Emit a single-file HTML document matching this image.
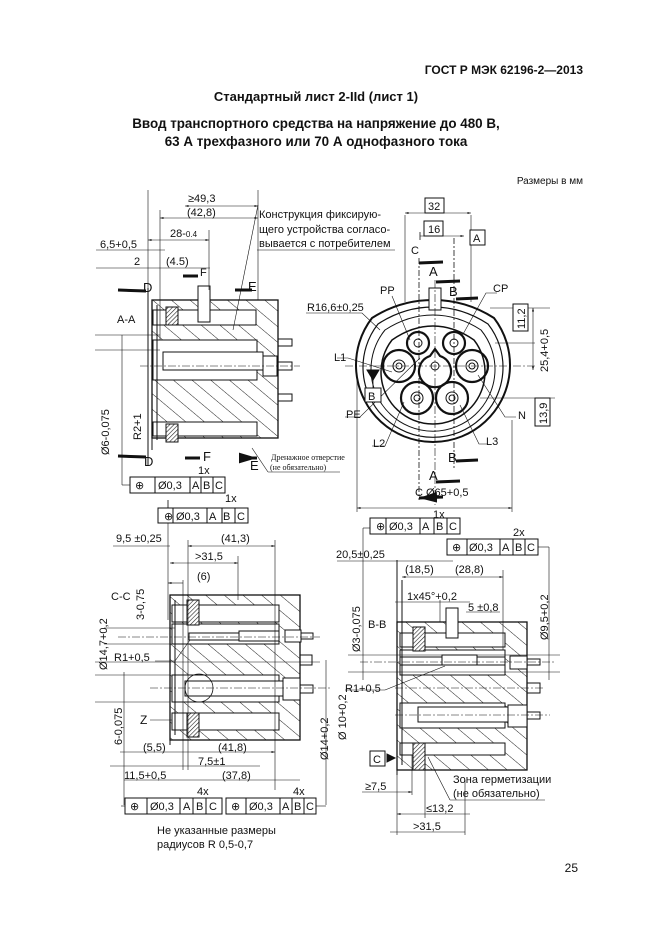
<!DOCTYPE html>
<html><head><meta charset="utf-8"><style>
html,body{margin:0;padding:0;background:#fff}
svg{display:block}
text{font-family:"Liberation Sans","DejaVu Sans",sans-serif;fill:#111}
.b{font-weight:bold}
.t{font-size:11px}
.s{font-size:10px}
.sf{font-family:"Liberation Serif",serif;font-size:8px}
</style></head><body>
<svg width="661" height="935" viewBox="0 0 661 935" xmlns="http://www.w3.org/2000/svg">
<defs>
<pattern id="h" patternUnits="userSpaceOnUse" width="12" height="12" patternTransform="rotate(-50)">
<rect width="12" height="12" fill="#fff"/><line x1="0" y1="0" x2="0" y2="12" stroke="#222" stroke-width="1"/>
</pattern>
<pattern id="hd" patternUnits="userSpaceOnUse" width="3" height="3" patternTransform="rotate(45)">
<rect width="3" height="3" fill="#fff"/><line x1="0" y1="0" x2="0" y2="3" stroke="#222" stroke-width="1.2"/>
</pattern>
<marker id="ar" viewBox="0 0 10 10" refX="10" refY="5" markerWidth="6" markerHeight="6" orient="auto-start-reverse"><path d="M0,2 L10,5 L0,8z" fill="#111"/></marker>
</defs>

<text x="583" y="74" text-anchor="end" class="b" font-size="12">ГОСТ Р МЭК 62196-2—2013</text>
<text x="316" y="101" text-anchor="middle" class="b" font-size="13">Стандартный лист 2-IId (лист 1)</text>
<text x="316" y="128" text-anchor="middle" class="b" font-size="13.4">Ввод транспортного средства на напряжение до 480 В,</text>
<text x="316" y="146" text-anchor="middle" class="b" font-size="13.4">63 А трехфазного или 70 А однофазного тока</text>
<text x="583" y="184" text-anchor="end" class="s">Размеры в мм</text>
<text x="578" y="872" text-anchor="end" font-size="12">25</text>

<g stroke="#111" fill="none" stroke-width="1">
<!-- A-A view -->
<rect x="152" y="300" width="126" height="138" fill="url(#h)" stroke-width="1.3"/>
<rect x="153" y="310" width="103" height="15" fill="#fff"/>
<rect x="153" y="340" width="104" height="40" fill="#fff"/>
<rect x="153" y="422" width="104" height="14" fill="#fff"/>
<rect x="163" y="352" width="100" height="18" fill="#fff"/>
<rect x="263" y="356" width="14" height="20" fill="#fff"/>
<rect x="277" y="362" width="15" height="8"/>
<rect x="278" y="339" width="14" height="7"/>
<rect x="278" y="394" width="14" height="7"/>
<rect x="166" y="307" width="12" height="18" fill="url(#hd)"/>
<rect x="166" y="424" width="12" height="18" fill="url(#hd)"/>
<rect x="198" y="286" width="12" height="36" fill="#fff"/>
<line x1="152" y1="300" x2="152" y2="450"/><line x1="157" y1="305" x2="157" y2="440"/>
<line x1="148" y1="288" x2="148" y2="465"/>
<line x1="148" y1="190" x2="148" y2="290" stroke-width=".6"/>
<line x1="258" y1="190" x2="258" y2="300" stroke-width=".6"/>
<line x1="185" y1="206" x2="258" y2="206" stroke-width=".6" marker-start="url(#ar)" marker-end="url(#ar)"/>
<line x1="160" y1="218" x2="258" y2="218" stroke-width=".6" marker-start="url(#ar)" marker-end="url(#ar)"/>
<line x1="148" y1="240" x2="209" y2="240" stroke-width=".6" marker-start="url(#ar)" marker-end="url(#ar)"/>
<line x1="96" y1="250" x2="165" y2="250" stroke-width=".6"/>
<line x1="96" y1="268" x2="210" y2="268" stroke-width=".6"/>
<line x1="209" y1="230" x2="209" y2="290" stroke-width=".6"/>
<line x1="160" y1="210" x2="160" y2="340" stroke-width=".6"/>
<line x1="95" y1="335" x2="160" y2="335" stroke-width=".6"/>
<line x1="95" y1="350" x2="160" y2="350" stroke-width=".6"/>
<line x1="122" y1="335" x2="122" y2="485" stroke-width=".6"/>
<line x1="122" y1="485" x2="130" y2="485" stroke-width=".6"/>
<line x1="140" y1="366" x2="300" y2="366" stroke-width=".5" stroke-dasharray="8,2,2,2"/>
<line x1="258" y1="205" x2="233" y2="330" stroke-width=".6"/>
<line x1="257" y1="250" x2="395" y2="250" stroke-width=".6"/>
<line x1="252" y1="448" x2="268" y2="472" stroke-width=".6"/><line x1="268" y1="472" x2="340" y2="472" stroke-width=".6"/>
<path d="M118,290 L146,291 M118,456 L146,457 M183,276 L198,276 M185,458 L200,458 M235,290 L252,290 M240,458 L257,458" stroke-width="3" marker-end="url(#ar)"/>
<rect x="130" y="477" width="95" height="16" fill="#fff"/>
<line x1="155" y1="477" x2="155" y2="493"/><line x1="190" y1="477" x2="190" y2="493"/><line x1="201" y1="477" x2="201" y2="493"/><line x1="213" y1="477" x2="213" y2="493"/>

<!-- Front view -->
<path d="M372,318 Q400,300 433,300 Q466,300 494,318 A77,77 0 1 1 372,318 Z" stroke-width="2"/>
<path d="M378,324 Q404,307 433,307 Q462,307 488,324 A70,70 0 1 1 378,324 Z" stroke-width="1.2"/>
<path d="M385,330 Q408,315 433,315 Q458,315 481,330 A62,62 0 1 1 385,330 Z" stroke-width="1"/>
<path d="M392,340 Q412,326 433,326 Q454,326 474,340 A52,52 0 1 1 392,340 Z" stroke-width="1.5"/>
<g stroke-width="2.2">
<circle cx="418" cy="343" r="11"/><circle cx="454" cy="343" r="11"/>
<circle cx="399" cy="366" r="16"/><circle cx="472" cy="366" r="16"/>
<path d="M435,349 L440,356 A16,16 0 1 1 430,356 Z"/>
<circle cx="417" cy="398" r="16"/><circle cx="452" cy="398" r="16"/>
</g>
<g stroke-width="1">
<circle cx="418" cy="343" r="4"/><circle cx="454" cy="343" r="4"/>
<circle cx="399" cy="366" r="6"/><circle cx="399" cy="366" r="3"/>
<circle cx="472" cy="366" r="6"/><circle cx="472" cy="366" r="3"/>
<circle cx="435" cy="366" r="4"/>
<circle cx="417" cy="398" r="6"/><circle cx="417" cy="398" r="3"/>
<circle cx="452" cy="398" r="6"/><circle cx="452" cy="398" r="3"/>
</g>
<rect x="429" y="288" width="12" height="22" fill="#fff"/>
<line x1="405" y1="215" x2="405" y2="302" stroke-width=".6"/>
<line x1="471" y1="215" x2="471" y2="302" stroke-width=".6"/>
<line x1="405" y1="213" x2="471" y2="213" stroke-width=".6" marker-start="url(#ar)" marker-end="url(#ar)"/>
<line x1="420" y1="236" x2="464" y2="236" stroke-width=".6" marker-end="url(#ar)"/>
<line x1="420" y1="232" x2="420" y2="240" stroke-width=".8"/>
<line x1="419" y1="258" x2="419" y2="500" stroke-width=".8" stroke-dasharray="6,2,2,2"/>
<line x1="435" y1="280" x2="435" y2="505" stroke-width=".6" stroke-dasharray="8,2,2,2"/>
<line x1="454" y1="238" x2="454" y2="468" stroke-width=".8" stroke-dasharray="6,2,2,2"/>
<line x1="345" y1="366" x2="535" y2="366" stroke-width=".5" stroke-dasharray="8,2,2,2"/>
<line x1="495" y1="343" x2="535" y2="343" stroke-width=".5"/>
<line x1="480" y1="398" x2="555" y2="398" stroke-width=".5"/>
<line x1="490" y1="308" x2="550" y2="308" stroke-width=".5"/>
<line x1="533" y1="308" x2="533" y2="370" stroke-width=".6" marker-start="url(#ar)" marker-end="url(#ar)"/>
<line x1="357" y1="380" x2="357" y2="512" stroke-width=".6"/>
<line x1="512" y1="420" x2="512" y2="512" stroke-width=".6"/>
<line x1="357" y1="508" x2="512" y2="508" stroke-width=".6" marker-start="url(#ar)" marker-end="url(#ar)"/>
<path d="M443,262 L419,263 M460,281 L436,282 M478,298 L456,299 M478,460 L456,461 M460,481 L436,482 M443,497 L419,498" stroke-width="3" marker-end="url(#ar)"/>
<path d="M306,313 L362,313 L380,330 M337,358 L348,358 L392,372 M345,417 L360,417 L420,358 M372,446 L385,446 L404,402 M488,444 L479,444 L460,405 M516,417 L505,417 L478,375 M392,296 L410,340 M497,293 L486,293 L462,336" stroke-width=".6"/>
<path d="M373,380 L367,370 L379,370 Z" fill="#111"/><line x1="373" y1="375" x2="373" y2="388" stroke-width=".8"/>
<rect x="425" y="198" width="19" height="15" fill="#fff"/>
<rect x="424" y="221" width="19" height="15" fill="#fff"/>
<rect x="470" y="230" width="15" height="15" fill="#fff"/>
<rect x="365" y="388" width="16" height="14" fill="#fff"/>
<rect x="513" y="304" width="15" height="27" fill="#fff"/>
<rect x="535" y="398" width="15" height="28" fill="#fff"/>

<!-- C-C view -->
<rect x="170" y="595" width="130" height="145" fill="url(#h)" stroke-width="1.3"/>
<rect x="172" y="605" width="107" height="17" fill="#fff"/>
<rect x="172" y="624" width="107" height="20" fill="#fff"/>
<rect x="172" y="675" width="107" height="27" fill="#fff"/>
<rect x="172" y="713" width="107" height="17" fill="#fff"/>
<rect x="189" y="633" width="50" height="7" fill="#fff"/>
<rect x="239" y="631" width="40" height="10" fill="#fff"/>
<rect x="285" y="630" width="16" height="12" fill="#fff"/><rect x="301" y="633" width="12" height="6"/>
<rect x="300" y="655" width="12" height="10"/>
<rect x="185" y="681" width="100" height="15" fill="#fff"/>
<rect x="283" y="678" width="17" height="22" fill="#fff"/><rect x="300" y="685" width="13" height="8"/>
<rect x="187" y="600" width="12" height="25" fill="url(#hd)"/>
<rect x="187" y="713" width="12" height="24" fill="url(#hd)"/>
<circle cx="199" cy="688" r="14" stroke-width=".8"/>
<line x1="170" y1="595" x2="170" y2="745"/><line x1="175" y1="600" x2="175" y2="735"/>
<line x1="168" y1="500" x2="168" y2="515" stroke-width=".6"/><line x1="168" y1="515" x2="158" y2="515" stroke-width=".6"/>
<line x1="168" y1="500" x2="168" y2="620" stroke-width=".6"/>
<line x1="113" y1="546" x2="170" y2="546" stroke-width=".6"/>
<line x1="188" y1="546" x2="275" y2="546" stroke-width=".6" marker-start="url(#ar)" marker-end="url(#ar)"/>
<line x1="170" y1="563" x2="238" y2="563" stroke-width=".6" marker-start="url(#ar)" marker-end="url(#ar)"/>
<line x1="168" y1="583" x2="183" y2="583" stroke-width=".6" marker-start="url(#ar)"/>
<line x1="275" y1="540" x2="275" y2="790" stroke-width=".6"/>
<line x1="238" y1="556" x2="238" y2="600" stroke-width=".6"/>
<line x1="188" y1="540" x2="188" y2="770" stroke-width=".6"/>
<line x1="183" y1="580" x2="183" y2="770" stroke-width=".6"/>
<line x1="104" y1="628" x2="175" y2="628" stroke-width=".6"/>
<line x1="104" y1="644" x2="175" y2="644" stroke-width=".6"/>
<line x1="95" y1="662" x2="320" y2="662" stroke-width=".5"/>
<line x1="95" y1="675" x2="170" y2="675" stroke-width=".5"/>
<line x1="95" y1="702" x2="170" y2="702" stroke-width=".5"/>
<line x1="118" y1="637" x2="320" y2="637" stroke-width=".5" stroke-dasharray="8,2,2,2"/>
<line x1="150" y1="688" x2="330" y2="688" stroke-width=".5" stroke-dasharray="8,2,2,2"/>
<line x1="124" y1="672" x2="124" y2="805" stroke-width=".6"/>
<line x1="124" y1="780" x2="300" y2="780" stroke-width=".6"/>
<line x1="110" y1="766" x2="260" y2="766" stroke-width=".6"/>
<line x1="120" y1="752" x2="275" y2="752" stroke-width=".6" marker-end="url(#ar)"/>
<line x1="326" y1="660" x2="326" y2="805" stroke-width=".6"/>
<line x1="155" y1="661" x2="175" y2="661" stroke-width=".6"/><line x1="175" y1="661" x2="190" y2="640" stroke-width=".6"/>
<line x1="150" y1="720" x2="172" y2="720" stroke-width=".6"/>
<line x1="121" y1="806" x2="125" y2="806" stroke-width=".6"/>
<line x1="316" y1="806" x2="326" y2="806" stroke-width=".6"/>
<rect x="158" y="508" width="90" height="15" fill="#fff"/>
<line x1="173" y1="508" x2="173" y2="523"/><line x1="207" y1="508" x2="207" y2="523"/><line x1="222" y1="508" x2="222" y2="523"/><line x1="235" y1="508" x2="235" y2="523"/>
<rect x="125" y="798" width="97" height="16" fill="#fff"/>
<line x1="147" y1="798" x2="147" y2="814"/><line x1="180" y1="798" x2="180" y2="814"/><line x1="193" y1="798" x2="193" y2="814"/><line x1="206" y1="798" x2="206" y2="814"/>
<rect x="226" y="798" width="90" height="16" fill="#fff"/>
<line x1="246" y1="798" x2="246" y2="814"/><line x1="280" y1="798" x2="280" y2="814"/><line x1="292" y1="798" x2="292" y2="814"/><line x1="304" y1="798" x2="304" y2="814"/>

<!-- B-B view -->
<rect x="397" y="622" width="130" height="148" fill="url(#h)" stroke-width="1.3"/>
<rect x="400" y="633" width="105" height="14" fill="#fff"/>
<rect x="400" y="650" width="105" height="25" fill="#fff"/>
<rect x="400" y="703" width="105" height="25" fill="#fff"/>
<rect x="400" y="743" width="105" height="12" fill="#fff"/>
<rect x="400" y="657" width="105" height="8" fill="#fff"/>
<rect x="442" y="655" width="35" height="10" fill="#fff"/>
<rect x="510" y="656" width="17" height="13" fill="#fff"/><rect x="527" y="659" width="13" height="6"/>
<rect x="527" y="683" width="13" height="10"/>
<rect x="418" y="707" width="90" height="15" fill="#fff"/>
<rect x="508" y="705" width="19" height="22" fill="#fff"/><rect x="527" y="712" width="13" height="7"/>
<rect x="413" y="627" width="12" height="24" fill="url(#hd)"/>
<rect x="413" y="743" width="12" height="27" fill="url(#hd)"/>
<rect x="446" y="608" width="12" height="30" fill="#fff"/>
<line x1="397" y1="560" x2="397" y2="775"/><line x1="402" y1="580" x2="402" y2="765"/>
<line x1="363" y1="528" x2="370" y2="528" stroke-width=".6"/><line x1="363" y1="528" x2="363" y2="680" stroke-width=".6"/>
<line x1="538" y1="547" x2="549" y2="547" stroke-width=".6"/><line x1="549" y1="547" x2="549" y2="680" stroke-width=".6"/>
<line x1="337" y1="561" x2="453" y2="561" stroke-width=".6"/>
<line x1="402" y1="577" x2="503" y2="577" stroke-width=".6" marker-start="url(#ar)" marker-end="url(#ar)"/>
<line x1="503" y1="570" x2="503" y2="650" stroke-width=".6"/>
<line x1="395" y1="602" x2="470" y2="602" stroke-width=".6"/>
<line x1="466" y1="612" x2="500" y2="612" stroke-width=".6"/>
<line x1="440" y1="600" x2="440" y2="622" stroke-width=".6"/>
<line x1="348" y1="655" x2="560" y2="655" stroke-width=".5"/>
<line x1="348" y1="672" x2="560" y2="672" stroke-width=".5"/>
<line x1="360" y1="662" x2="555" y2="662" stroke-width=".5" stroke-dasharray="8,2,2,2"/>
<line x1="395" y1="688" x2="545" y2="688" stroke-width=".5" stroke-dasharray="8,2,2,2"/>
<line x1="395" y1="715" x2="550" y2="715" stroke-width=".5" stroke-dasharray="8,2,2,2"/>
<line x1="345" y1="690" x2="385" y2="690" stroke-width=".6"/><line x1="385" y1="690" x2="445" y2="666" stroke-width=".6"/>
<line x1="412" y1="755" x2="412" y2="795" stroke-width=".6"/>
<line x1="425" y1="755" x2="425" y2="818" stroke-width=".6"/>
<line x1="362" y1="792" x2="412" y2="792" stroke-width=".6" marker-end="url(#ar)"/>
<line x1="397" y1="814" x2="470" y2="814" stroke-width=".6" marker-start="url(#ar)"/>
<line x1="390" y1="832" x2="465" y2="832" stroke-width=".6"/>
<line x1="397" y1="775" x2="397" y2="835" stroke-width=".6"/>
<line x1="465" y1="780" x2="465" y2="835" stroke-width=".6"/>
<line x1="428" y1="757" x2="450" y2="800" stroke-width=".6"/><line x1="450" y1="800" x2="545" y2="800" stroke-width=".6"/>
<path d="M395,758 L387,754 L387,762 Z" fill="#111"/>
<rect x="370" y="751" width="15" height="15" fill="#fff"/>
<rect x="370" y="518" width="90" height="16" fill="#fff"/>
<line x1="386" y1="518" x2="386" y2="534"/><line x1="420" y1="518" x2="420" y2="534"/><line x1="434" y1="518" x2="434" y2="534"/><line x1="447" y1="518" x2="447" y2="534"/>
<rect x="447" y="539" width="91" height="16" fill="#fff"/>
<line x1="467" y1="539" x2="467" y2="555"/><line x1="500" y1="539" x2="500" y2="555"/><line x1="513" y1="539" x2="513" y2="555"/><line x1="525" y1="539" x2="525" y2="555"/>
</g>

<!-- A-A texts -->
<text x="188" y="202" class="t">≥49,3</text>
<text x="187" y="216" class="t">(42,8)</text>
<text x="170" y="237" class="t">28-<tspan font-size="8">0.4</tspan></text>
<text x="100" y="248" class="t">6,5+0,5</text>
<text x="134" y="265" class="t">2</text>
<text x="166" y="265" class="t">(4.5)</text>
<text x="200" y="276" class="t" font-size="13">F</text>
<text x="143" y="292" font-size="13">D</text>
<text x="248" y="291" font-size="13">E</text>
<text x="117" y="323" class="t">A-A</text>
<text transform="translate(109,455) rotate(-90)" class="t">Ø6-0,075</text>
<text transform="translate(141,440) rotate(-90)" class="t">R2+1</text>
<text x="144" y="466" font-size="13">D</text>
<text x="203" y="461" font-size="13">F</text>
<text x="250" y="470" font-size="13">E</text>
<text x="198" y="474" class="t">1x</text>
<text x="225" y="502" class="t">1x</text>
<text x="135" y="489" class="t">⊕</text><text x="158" y="489" class="t">Ø0,3</text><text x="192" y="489" class="t">A</text><text x="203" y="489" class="t">B</text><text x="215" y="489" class="t">C</text>
<text x="259" y="218" class="t">Конструкция фиксирую-</text>
<text x="259" y="233" class="t">щего устройства согласо-</text>
<text x="259" y="247" class="t">вывается с потребителем</text>
<text x="271" y="460" class="sf">Дренажное отверстие</text>
<text x="270" y="470" class="sf">(не обязательно)</text>

<!-- Front texts -->
<text x="428" y="210" class="t">32</text>
<text x="428" y="233" class="t">16</text>
<text x="473" y="242" class="t">A</text>
<text x="411" y="254" class="t">C</text>
<text x="429" y="276" font-size="13">A</text>
<text x="449" y="296" font-size="13">B</text>
<text x="380" y="294" class="t">PP</text>
<text x="493" y="292" class="t">CP</text>
<text x="307" y="311" class="t">R16,6±0,25</text>
<text x="334" y="361" class="t">L1</text>
<text x="368" y="400" class="t">B</text>
<text x="346" y="418" class="t">PE</text>
<text x="373" y="447" class="t">L2</text>
<text x="486" y="445" class="t">L3</text>
<text x="518" y="419" class="t">N</text>
<text x="448" y="462" font-size="13">B</text>
<text x="429" y="480" font-size="13">A</text>
<text x="415" y="496" class="t">C Ø65+0,5</text>
<text x="433" y="518" class="t">1x</text>
<text transform="translate(525,329) rotate(-90)" class="t">11,2</text>
<text transform="translate(548,372) rotate(-90)" class="t">25,4+0,5</text>
<text transform="translate(547,424) rotate(-90)" class="t">13,9</text>

<!-- C-C texts -->
<text x="164" y="520" class="t">⊕</text><text x="176" y="520" class="t">Ø0,3</text><text x="209" y="520" class="t">A</text><text x="223" y="520" class="t">B</text><text x="237" y="520" class="t">C</text>
<text x="116" y="542" class="t">9,5 ±0,25</text>
<text x="221" y="542" class="t">(41,3)</text>
<text x="195" y="560" class="t">&gt;31,5</text>
<text x="197" y="580" class="t">(6)</text>
<text x="111" y="600" class="t">C-C</text>
<text transform="translate(144,620) rotate(-90)" class="t">3-0,75</text>
<text transform="translate(107,670) rotate(-90)" class="t">Ø14,7+0,2</text>
<text x="114" y="661" class="t">R1+0,5</text>
<text x="140" y="724" font-size="12">Z</text>
<text transform="translate(122,745) rotate(-90)" class="t">6-0,075</text>
<text x="143" y="751" class="t">(5,5)</text>
<text x="218" y="751" class="t">(41,8)</text>
<text x="198" y="765" class="t">7,5±1</text>
<text x="124" y="779" class="t">11,5+0,5</text>
<text x="222" y="779" class="t">(37,8)</text>
<text x="197" y="795" class="t">4x</text>
<text x="293" y="795" class="t">4x</text>
<text x="130" y="810" class="t">⊕</text><text x="150" y="810" class="t">Ø0,3</text><text x="183" y="810" class="t">A</text><text x="196" y="810" class="t">B</text><text x="209" y="810" class="t">C</text>
<text x="231" y="810" class="t">⊕</text><text x="249" y="810" class="t">Ø0,3</text><text x="282" y="810" class="t">A</text><text x="294" y="810" class="t">B</text><text x="306" y="810" class="t">C</text>
<text transform="translate(328,760) rotate(-90)" class="t">Ø14+0,2</text>
<text transform="translate(346,740) rotate(-90)" class="t">Ø 10+0,2</text>
<text x="157" y="834" class="t">Не указанные размеры</text>
<text x="157" y="848" class="t">радиусов R 0,5-0,7</text>

<!-- B-B texts -->
<text x="376" y="530" class="t">⊕</text><text x="389" y="530" class="t">Ø0,3</text><text x="422" y="530" class="t">A</text><text x="436" y="530" class="t">B</text><text x="449" y="530" class="t">C</text>
<text x="513" y="536" class="t">2x</text>
<text x="452" y="551" class="t">⊕</text><text x="469" y="551" class="t">Ø0,3</text><text x="502" y="551" class="t">A</text><text x="515" y="551" class="t">B</text><text x="527" y="551" class="t">C</text>
<text x="336" y="558" class="t">20,5±0,25</text>
<text x="405" y="573" class="t">(18,5)</text>
<text x="455" y="573" class="t">(28,8)</text>
<text x="407" y="600" class="t">1x45°+0,2</text>
<text x="468" y="611" class="t">5 ±0,8</text>
<text x="368" y="628" class="t">B-B</text>
<text transform="translate(360,652) rotate(-90)" class="t">Ø3-0,075</text>
<text transform="translate(548,640) rotate(-90)" class="t">Ø9,5+0,2</text>
<text x="345" y="692" class="t">R1+0,5</text>
<text x="373" y="763" class="t">C</text>
<text x="453" y="783" class="t">Зона герметизации</text>
<text x="453" y="797" class="t">(не обязательно)</text>
<text x="365" y="790" class="t">≥7,5</text>
<text x="426" y="812" class="t">≤13,2</text>
<text x="413" y="830" class="t">&gt;31,5</text>
</svg>
</body></html>
